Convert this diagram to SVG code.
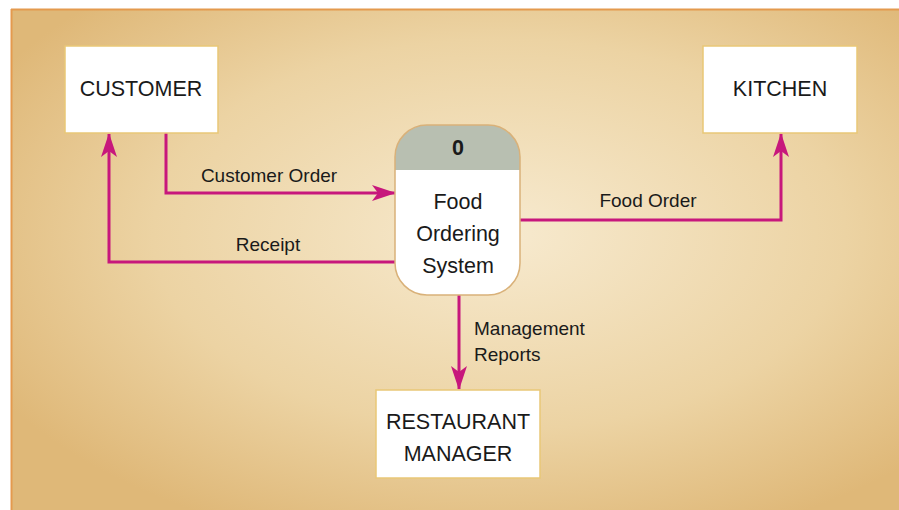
<svg xmlns="http://www.w3.org/2000/svg" width="899" height="510" viewBox="0 0 899 510">
<defs>
<radialGradient id="bg" cx="0.55" cy="0.45" r="0.65">
<stop offset="0" stop-color="#f7eacf"/>
<stop offset="0.6" stop-color="#ecd3a3"/>
<stop offset="1" stop-color="#dfb878"/>
</radialGradient>
<marker id="ah" viewBox="0 0 24 16" refX="23" refY="8" markerWidth="24" markerHeight="16" markerUnits="userSpaceOnUse" orient="auto" overflow="visible">
<path d="M0,0 L24,8 L0,16 L6,8 Z" fill="#c7177c"/>
</marker>
<clipPath id="pc"><rect x="395" y="125" width="125" height="170" rx="32"/></clipPath>
</defs>
<style>
.ent{fill:#ffffff;stroke:#e9c777;stroke-width:1.5}
.t{font-family:"Liberation Sans",Arial,sans-serif;font-size:21.5px;fill:#1a1a1a;text-anchor:middle}
.l{font-family:"Liberation Sans",Arial,sans-serif;font-size:19px;fill:#1a1a1a}
.f{fill:none;stroke:#c7177c;stroke-width:3;marker-end:url(#ah)}
</style>
<rect x="0" y="0" width="899" height="510" fill="#ffffff"/>
<rect x="11" y="9" width="888" height="501" fill="url(#bg)"/>
<line x1="11" y1="9.5" x2="899" y2="9.5" stroke="#e49a4e" stroke-width="2"/>
<line x1="11.5" y1="9" x2="11.5" y2="510" stroke="#e49a4e" stroke-width="2"/>
<g id="connectors">
<path class="f" d="M166,133 V193 H395"/>
<path class="f" d="M395,262 H109 V134"/>
<path class="f" d="M520,220 H781 V134"/>
<path class="f" d="M459,295 V389"/>
<text class="l" x="269" y="182" text-anchor="middle">Customer Order</text>
<text class="l" x="268" y="251" text-anchor="middle">Receipt</text>
<text class="l" x="648" y="207" text-anchor="middle">Food Order</text>
<text class="l" x="474" y="335">Management</text>
<text class="l" x="474" y="361">Reports</text>
</g>
<g id="customer">
<rect class="ent" x="65" y="46" width="153" height="87"/>
<text class="t" x="141" y="96">CUSTOMER</text>
</g>
<g id="kitchen">
<rect class="ent" x="703" y="46" width="154" height="87"/>
<text class="t" x="780" y="96">KITCHEN</text>
</g>
<g id="manager">
<rect class="ent" x="376" y="390" width="164" height="88"/>
<text class="t" x="458" y="429">RESTAURANT</text>
<text class="t" x="458" y="461">MANAGER</text>
</g>
<g id="process">
<rect x="395" y="125" width="125" height="170" rx="32" fill="#ffffff"/>
<rect x="395" y="125" width="125" height="45" fill="#b8bfb1" clip-path="url(#pc)"/>
<rect x="395" y="125" width="125" height="170" rx="32" fill="none" stroke="#d9b179" stroke-width="1.5"/>
<text class="t" x="458" y="155" style="font-weight:bold">0</text>
<text class="t" x="458" y="209">Food</text>
<text class="t" x="458" y="241">Ordering</text>
<text class="t" x="458" y="273">System</text>
</g>
</svg>
